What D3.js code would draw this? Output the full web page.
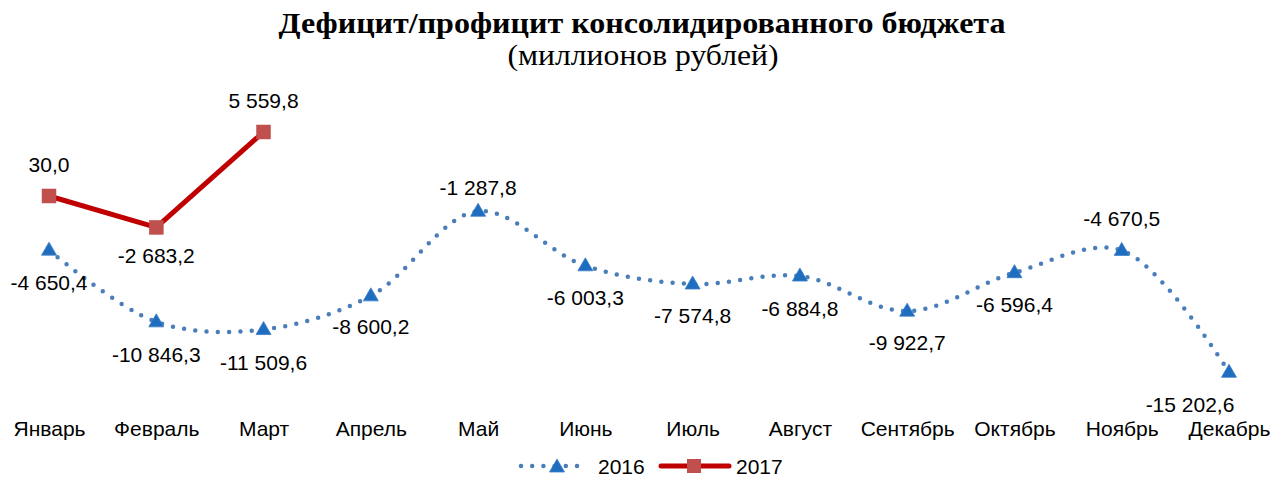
<!DOCTYPE html>
<html><head><meta charset="utf-8">
<script src="https://cdn.jsdelivr.net/npm/d3@7"></script>
<style>body{margin:0;background:#fff}svg{display:block}</style>
</head><body>
<svg id="c" width="1284" height="478"></svg>
<script>
const months = ["Январь","Февраль","Март","Апрель","Май","Июнь","Июль","Август","Сентябрь","Октябрь","Ноябрь","Декабрь"];
const values2016 = [-4650.4,-10846.3,-11509.6,-8600.2,-1287.8,-6003.3,-7574.8,-6884.8,-9922.7,-6596.4,-4670.5,-15202.6];
const values2017 = [30.0,-2683.2,5559.8];
const labels2016 = ["-4 650,4","-10 846,3","-11 509,6","-8 600,2","-1 287,8","-6 003,3","-7 574,8","-6 884,8","-9 922,7","-6 596,4","-4 670,5","-15 202,6"];
const labels2017 = ["30,0","-2 683,2","5 559,8"];
const seriesNames = ["2016","2017"];

const svg = d3.select("#c");
const font = "'Liberation Sans', Arial, sans-serif";
const x = d3.scalePoint().domain(months).range([49, 1229]);
const y = d3.scaleLinear().domain([-16000, 6000]).range([381.5, 126.9]);

// title
svg.append("text").attr("x", 642).attr("y", 33).attr("text-anchor","middle")
  .attr("font-family","'Liberation Serif','Times New Roman',serif").attr("font-weight","bold")
  .attr("font-size", 29).attr("textLength", 727).attr("lengthAdjust","spacingAndGlyphs")
  .text("Дефицит/профицит консолидированного бюджета");
svg.append("text").attr("x", 643).attr("y", 65).attr("text-anchor","middle")
  .attr("font-family","'Liberation Serif','Times New Roman',serif")
  .attr("font-size", 29).attr("textLength", 271).attr("lengthAdjust","spacingAndGlyphs")
  .text("(миллионов рублей)");

// x axis labels
const xAxis = d3.axisBottom(x).tickSize(0).tickPadding(0);
const ax = svg.append("g").attr("transform","translate(0,423)").call(xAxis);
ax.select(".domain").remove();
ax.selectAll("text").attr("font-family", font).attr("font-size", 21).attr("fill","#000").attr("dy","0.62em");

const blue = "#4a7ebb", triFill = "#1f6dbf", red = "#c00000", sqFill = "#c0504d";
const triPath = "M0,-8L7.5,5L-7.5,5Z";

// 2016 line
const d16 = months.map((m,i)=>({m, v: values2016[i], l: labels2016[i]}));
const line16 = d3.line().x(d=>x(d.m)).y(d=>y(d.v)).curve(d3.curveCatmullRom.alpha(0.5));
svg.append("path").datum(d16).attr("d", line16).attr("fill","none")
  .attr("stroke", blue).attr("stroke-width", 4.5).attr("stroke-linecap","round")
  .attr("stroke-dasharray","0,11.3");
svg.selectAll(".tri").data(d16).join("path").attr("class","tri")
  .attr("transform", d=>`translate(${x(d.m)},${y(d.v)})`)
  .attr("d", triPath).attr("fill", triFill).attr("stroke","#3b7dc8").attr("stroke-width",0.8);

// 2017 line
const d17 = values2017.map((v,i)=>({m: months[i], v, l: labels2017[i]}));
const line17 = d3.line().x(d=>x(d.m)).y(d=>y(d.v));
svg.append("path").datum(d17).attr("d", line17).attr("fill","none")
  .attr("stroke", red).attr("stroke-width", 5).attr("stroke-linejoin","round");
svg.selectAll(".sq").data(d17).join("rect").attr("class","sq")
  .attr("x", d=>x(d.m)-7).attr("y", d=>y(d.v)-7).attr("width",14).attr("height",14)
  .attr("fill", sqFill).attr("stroke","#c0504d").attr("stroke-width",0.5);

// data labels (offset from point center)
const off16 = [32,33,33,31,-24,32,32,32,31,32,-32,32];
const dx16 = [0,0,0,0,0,0,0,0,0,0,0,-39];
const off17 = [-31,28,-31];
const dx17 = [0,0,0];
function labels(data, offs, dxs){
  svg.append("g").selectAll("text").data(data).join("text")
    .attr("x", (d,i)=>x(d.m)+dxs[i]).attr("y", (d,i)=>y(d.v)+offs[i])
    .attr("text-anchor","middle").attr("dominant-baseline","central")
    .attr("font-family", font).attr("font-size", 21).attr("fill","#000")
    .text(d=>d.l);
}
labels(d16, off16, dx16);
labels(d17, off17, dx17);

// legend
const lg = svg.append("g");
lg.append("line").attr("x1",521).attr("x2",584).attr("y1",466).attr("y2",466)
  .attr("stroke", blue).attr("stroke-width",4.5).attr("stroke-linecap","round").attr("stroke-dasharray","0,11.2");
lg.append("path").attr("transform","translate(557,467)").attr("d",triPath).attr("fill",triFill).attr("stroke","#3b7dc8").attr("stroke-width",0.8);
lg.append("text").attr("x",598).attr("y",466).attr("dominant-baseline","central")
  .attr("font-family",font).attr("font-size",21).text(seriesNames[0]);
lg.append("line").attr("x1",661).attr("x2",729).attr("y1",466).attr("y2",466)
  .attr("stroke", red).attr("stroke-width",5).attr("stroke-linecap","round");
lg.append("rect").attr("x",687).attr("y",459).attr("width",14).attr("height",14).attr("fill",sqFill);
lg.append("text").attr("x",736).attr("y",466).attr("dominant-baseline","central")
  .attr("font-family",font).attr("font-size",21).text(seriesNames[1]);
</script>
</body></html>
